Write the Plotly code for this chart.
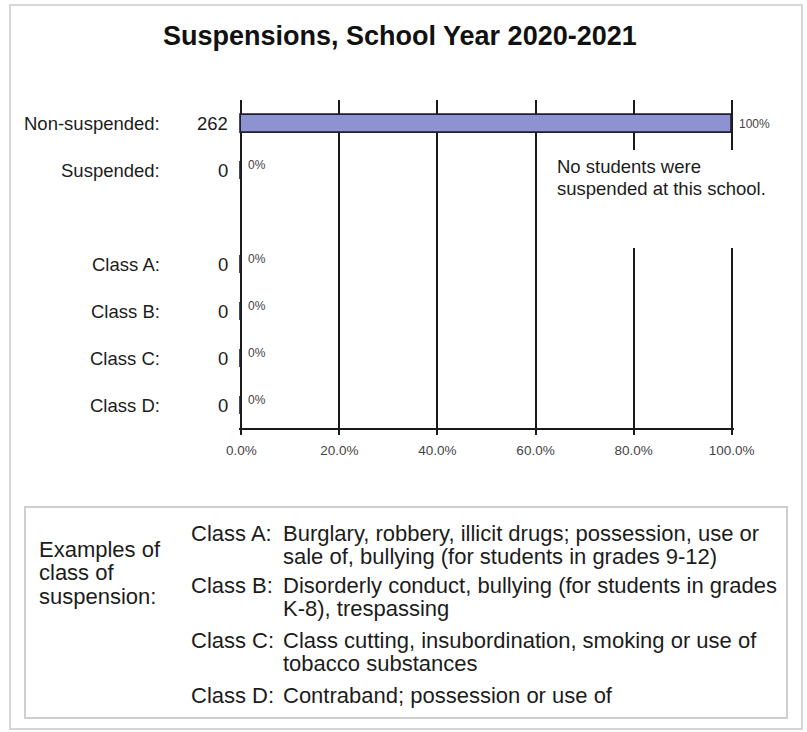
import plotly.graph_objects as go

# ---- data ---------------------------------------------------------------
row_labels = ["Non-suspended:", "Suspended:", "Class A:", "Class B:", "Class C:", "Class D:"]
row_counts = [262, 0, 0, 0, 0, 0]
x_ticks = [0, 20, 40, 60, 80, 100]
x_tick_labels = [f"{v:.1f}%" for v in x_ticks]

note_lines = ["No students were", "suspended at this school."]
legend_heading = ["Examples of", "class of", "suspension:"]
class_names = ["Class A:", "Class B:", "Class C:", "Class D:"]
class_examples = [
    ["Burglary, robbery, illicit drugs; possession, use or",
     "sale of, bullying (for students in grades 9-12)"],
    ["Disorderly conduct, bullying (for students in grades",
     "K-8), trespassing"],
    ["Class cutting, insubordination, smoking or use of",
     "tobacco substances"],
    ["Contraband; possession or use of"],
]

# ---- layout helpers -----------------------------------------------------
W, H = 807, 732
ML, MR, MT, MB = 239, 73, 100, 304
PW, PH = W - ML - MR, H - MT - MB

def px_x(px):
    return (px - ML) / PW

def px_y(py):
    return (H - MB - py) / PH

# vertical slot of each row (a blank slot separates totals from classes)
row_slots = [0, 1, 3, 4, 5, 6]

total = row_counts[0] + row_counts[1]
row_pct = [c / total * 100 for c in row_counts]

FONT = "Arial, Liberation Sans, Helvetica, sans-serif"
TXT = "#1c1c1c"

fig = go.Figure()
fig.add_trace(go.Bar(
    x=row_pct, y=row_slots, orientation="h", width=0.38,
    marker=dict(color="#8C92D2", line=dict(color="#1e1e2e", width=1.8)),
    showlegend=False, hoverinfo="skip",
))

ann = []
# row labels, counts and percentage labels
for lab, cnt, pct, slot in zip(row_labels, row_counts, row_pct, row_slots):
    ann.append(dict(x=px_x(162), y=slot, xref="paper", yref="y", text=lab,
                    xanchor="right", yanchor="middle", showarrow=False,
                    font=dict(size=18.5, color=TXT)))
    ann.append(dict(x=px_x(230), y=slot, xref="paper", yref="y", text=str(cnt),
                    xanchor="right", yanchor="middle", showarrow=False,
                    font=dict(size=18.5, color=TXT)))
    ann.append(dict(x=pct, y=slot, xref="x", yref="y", text=f"{pct:.0f}%",
                    xanchor="left", yanchor="middle", xshift=5,
                    yshift=0 if pct > 0 else 6, showarrow=False,
                    font=dict(size=12, color="#444444")))

# title
ann.append(dict(x=px_x(400), y=px_y(36), xref="paper", yref="paper",
                text="<b>Suspensions, School Year 2020-2021</b>",
                xanchor="center", yanchor="middle", showarrow=False,
                font=dict(size=27, color="#111")))

# note in the chart
for i, line in enumerate(note_lines):
    ann.append(dict(x=px_x(555), y=px_y(166 + 22 * i), xref="paper", yref="paper",
                    text=line, xanchor="left", yanchor="middle", showarrow=False,
                    font=dict(size=18.5, color=TXT)))

# explanation box
for i, line in enumerate(legend_heading):
    ann.append(dict(x=px_x(37), y=px_y(549 + 23.5 * i), xref="paper", yref="paper",
                    text=line, xanchor="left", yanchor="middle", showarrow=False,
                    font=dict(size=22, color=TXT)))
class_rows = [533, 585, 640, 695]
for name, lines, top in zip(class_names, class_examples, class_rows):
    ann.append(dict(x=px_x(189), y=px_y(top), xref="paper", yref="paper",
                    text=name, xanchor="left", yanchor="middle", showarrow=False,
                    font=dict(size=22, color=TXT)))
    for j, line in enumerate(lines):
        ann.append(dict(x=px_x(281), y=px_y(top + 23 * j), xref="paper", yref="paper",
                        text=line, xanchor="left", yanchor="middle", showarrow=False,
                        font=dict(size=22, color=TXT)))

shapes = [
    # blank patch behind the note (interrupts the right-hand gridlines)
    dict(type="rect", xref="paper", yref="paper", layer="above",
         x0=px_x(548), x1=px_x(785), y0=px_y(248), y1=px_y(150),
         fillcolor="white", line=dict(width=0)),
    # outer frame
    dict(type="rect", xref="paper", yref="paper", layer="below",
         x0=px_x(10), x1=px_x(802), y0=px_y(729), y1=px_y(5),
         line=dict(color="#d6d6d6", width=2)),
    # explanation box
    dict(type="rect", xref="paper", yref="paper", layer="below",
         x0=px_x(25), x1=px_x(787), y0=px_y(718), y1=px_y(507),
         line=dict(color="#cfcfcf", width=2)),
]

fig.update_layout(
    width=W, height=H,
    margin=dict(l=ML, r=MR, t=MT, b=MB, pad=0),
    paper_bgcolor="white", plot_bgcolor="white",
    font=dict(family=FONT, color=TXT),
    bargap=0,
    annotations=ann, shapes=shapes,
    xaxis=dict(range=[-0.5, 100.5], tickvals=x_ticks, ticktext=x_tick_labels,
               showgrid=True, gridcolor="#1a1a1a", gridwidth=2, zeroline=False,
               showline=True, linecolor="#1a1a1a", linewidth=2,
               ticks="outside", ticklen=5, tickwidth=1.5, tickcolor="#1a1a1a",
               ticklabelstandoff=4,
               tickfont=dict(size=13.5, color="#444444"), fixedrange=True),
    yaxis=dict(range=[6.47, -0.51], showgrid=False, zeroline=False,
               showticklabels=False, showline=False, fixedrange=True),
)

fig.write_html("out.html")
